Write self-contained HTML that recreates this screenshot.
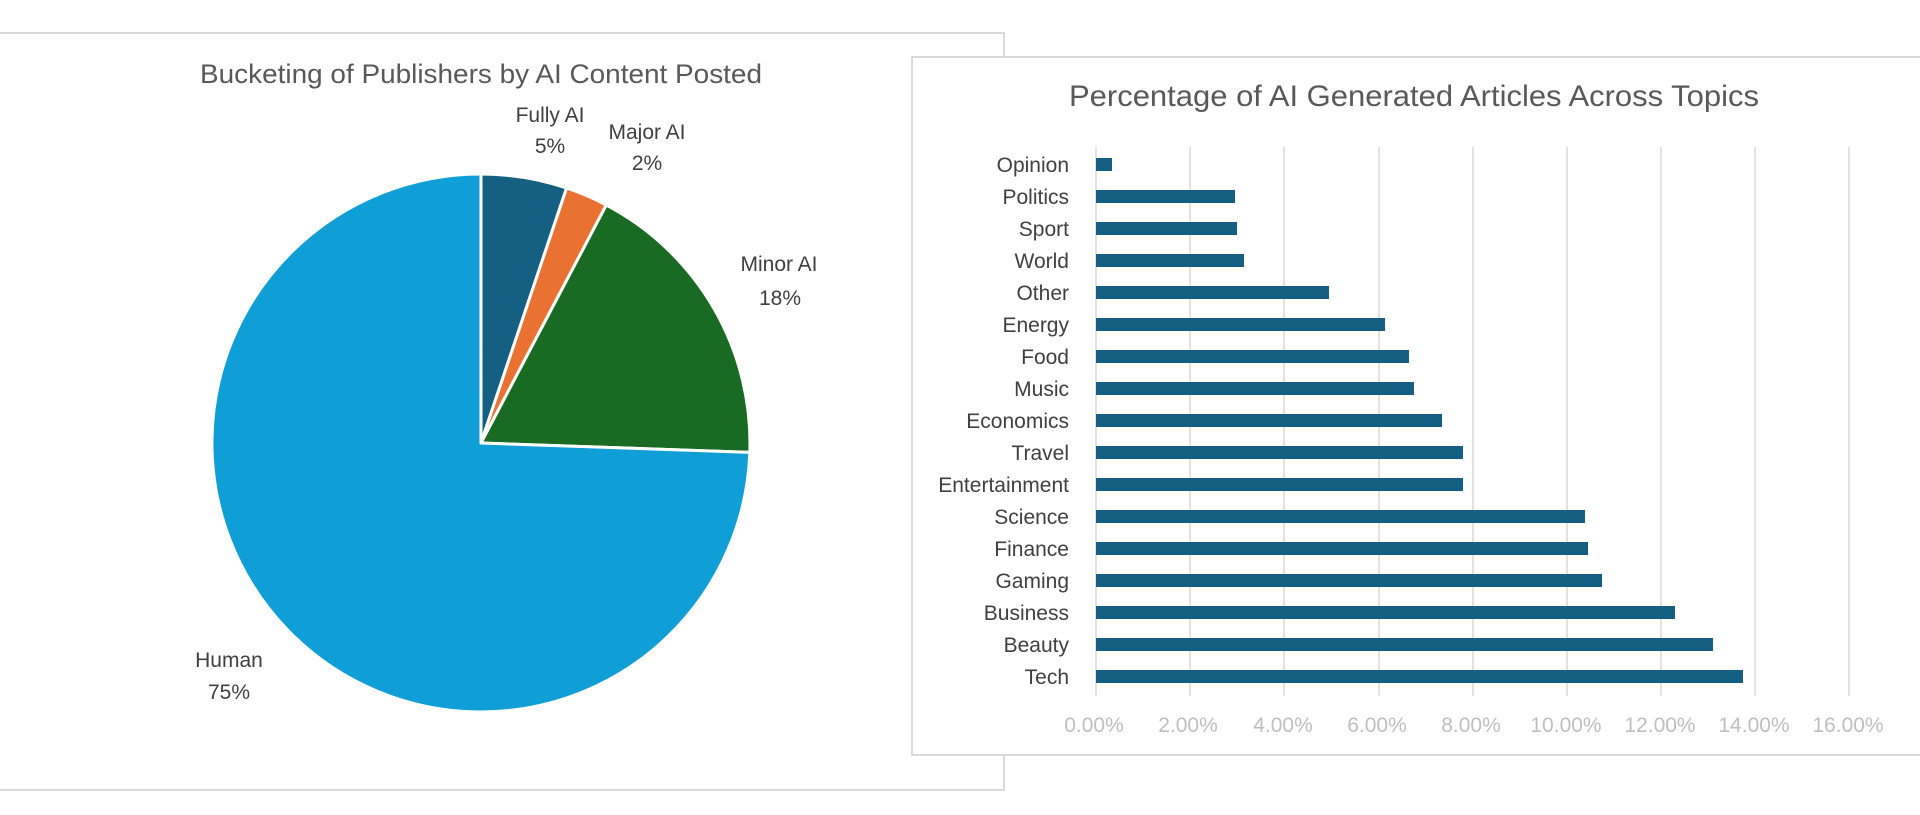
<!DOCTYPE html>
<html><head><style>
html,body{margin:0;padding:0;background:#fff;}
svg{display:block;font-family:"Liberation Sans",sans-serif;}
</style></head><body>
<svg width="1920" height="815" viewBox="0 0 1920 815" xmlns="http://www.w3.org/2000/svg">
<rect width="1920" height="815" fill="#fff"/>
<rect x="-2" y="33" width="1006" height="757" fill="#fff" stroke="#d9d9d9" stroke-width="2"/>
<text x="481" y="83" text-anchor="middle" font-size="27" fill="#595959" textLength="562" lengthAdjust="spacingAndGlyphs">Bucketing of Publishers by AI Content Posted</text>
<g stroke="#fff" stroke-width="3" stroke-linejoin="round">
<path d="M481,443 L481,174 A269,269 0 0 1 566.6,188.0 Z" fill="#156082"/>
<path d="M481,443 L566.6,188.0 A269,269 0 0 1 606.3,205.0 Z" fill="#e97132"/>
<path d="M481,443 L606.3,205.0 A269,269 0 0 1 749.8,452.4 Z" fill="#196b24"/>
<path d="M481,443 L749.8,452.4 A269,269 0 1 1 481,174 Z" fill="#0f9ed5"/>
</g>
<g font-size="21" fill="#404040" text-anchor="middle">
<text x="550" y="122">Fully AI</text><text x="550" y="153">5%</text>
<text x="647" y="139">Major AI</text><text x="647" y="170">2%</text>
<text x="779" y="271">Minor AI</text><text x="780" y="305">18%</text>
<text x="229" y="667">Human</text><text x="229" y="699">75%</text>
</g>
<rect x="912" y="57" width="1010" height="698" fill="#fff" stroke="#d9d9d9" stroke-width="2"/>
<text x="1414" y="106" text-anchor="middle" font-size="30" fill="#595959" textLength="690" lengthAdjust="spacingAndGlyphs">Percentage of AI Generated Articles Across Topics</text>
<g stroke="#d9d9d9" stroke-width="1.5">
<line x1="1096" y1="147" x2="1096" y2="696"/>
<line x1="1190" y1="147" x2="1190" y2="696"/>
<line x1="1284" y1="147" x2="1284" y2="696"/>
<line x1="1379" y1="147" x2="1379" y2="696"/>
<line x1="1473" y1="147" x2="1473" y2="696"/>
<line x1="1567" y1="147" x2="1567" y2="696"/>
<line x1="1661" y1="147" x2="1661" y2="696"/>
<line x1="1755" y1="147" x2="1755" y2="696"/>
<line x1="1849" y1="147" x2="1849" y2="696"/>
</g>
<g font-size="21" fill="#bfbfbf" text-anchor="middle">
<text x="1094" y="732">0.00%</text><text x="1188" y="732">2.00%</text><text x="1283" y="732">4.00%</text>
<text x="1377" y="732">6.00%</text><text x="1471" y="732">8.00%</text><text x="1566" y="732">10.00%</text>
<text x="1660" y="732">12.00%</text><text x="1754" y="732">14.00%</text><text x="1848" y="732">16.00%</text>
</g>
<g fill="#156082">
<rect x="1096" y="158" width="16" height="13"/>
<rect x="1096" y="190" width="139" height="13"/>
<rect x="1096" y="222" width="141" height="13"/>
<rect x="1096" y="254" width="148" height="13"/>
<rect x="1096" y="286" width="233" height="13"/>
<rect x="1096" y="318" width="289" height="13"/>
<rect x="1096" y="350" width="313" height="13"/>
<rect x="1096" y="382" width="318" height="13"/>
<rect x="1096" y="414" width="346" height="13"/>
<rect x="1096" y="446" width="367" height="13"/>
<rect x="1096" y="478" width="367" height="13"/>
<rect x="1096" y="510" width="489" height="13"/>
<rect x="1096" y="542" width="492" height="13"/>
<rect x="1096" y="574" width="506" height="13"/>
<rect x="1096" y="606" width="579" height="13"/>
<rect x="1096" y="638" width="617" height="13"/>
<rect x="1096" y="670" width="647" height="13"/>
</g>
<g font-size="21" fill="#404040" text-anchor="end">
<text x="1069" y="172">Opinion</text>
<text x="1069" y="204">Politics</text>
<text x="1069" y="236">Sport</text>
<text x="1069" y="268">World</text>
<text x="1069" y="300">Other</text>
<text x="1069" y="332">Energy</text>
<text x="1069" y="364">Food</text>
<text x="1069" y="396">Music</text>
<text x="1069" y="428">Economics</text>
<text x="1069" y="460">Travel</text>
<text x="1069" y="492">Entertainment</text>
<text x="1069" y="524">Science</text>
<text x="1069" y="556">Finance</text>
<text x="1069" y="588">Gaming</text>
<text x="1069" y="620">Business</text>
<text x="1069" y="652">Beauty</text>
<text x="1069" y="684">Tech</text>
</g>
</svg>
</body></html>
